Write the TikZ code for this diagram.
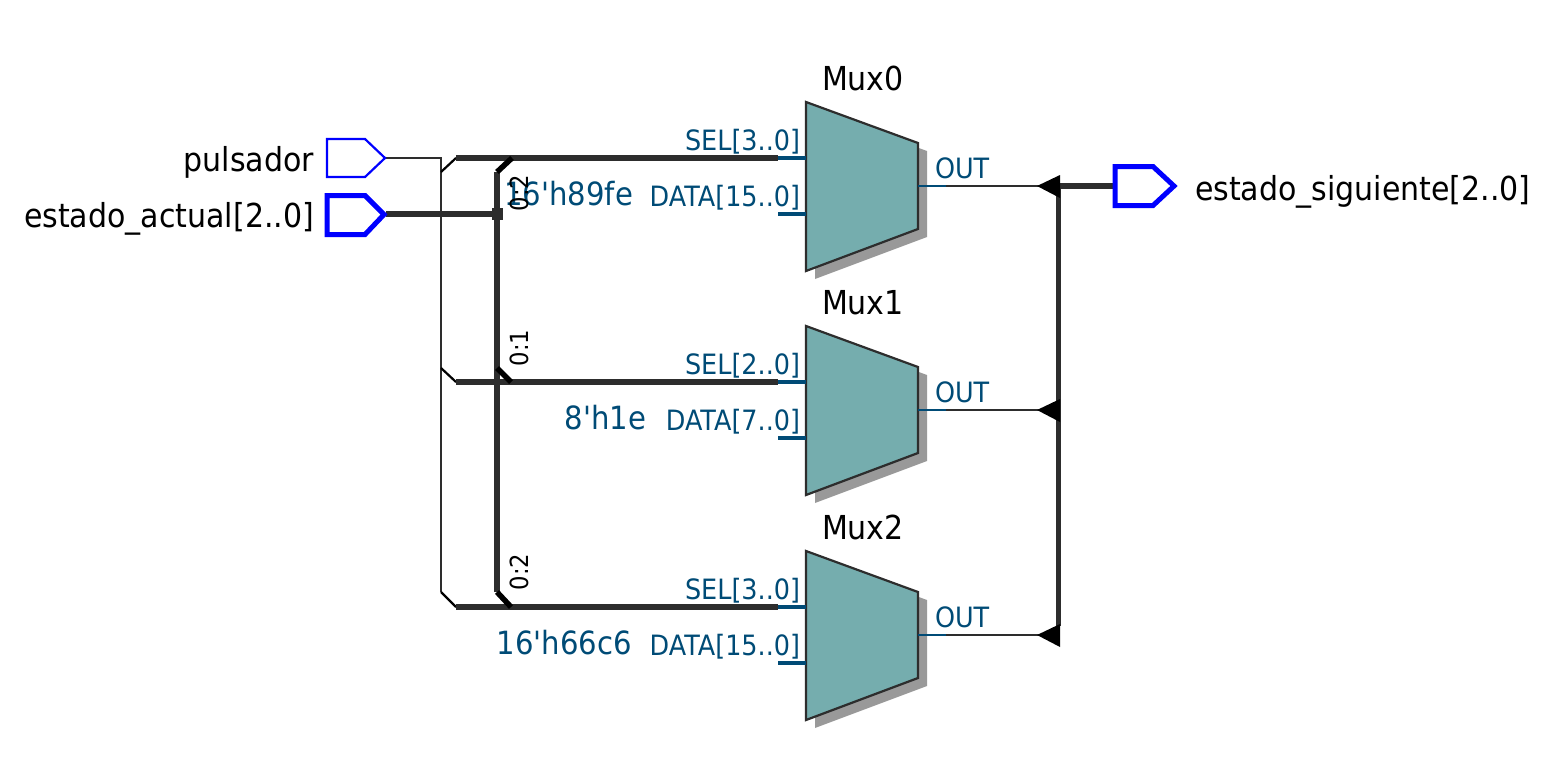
\documentclass[tikz,border=0pt]{standalone}
\usepackage{fontspec}
\newfontfamily\diagfont[FakeStretch=0.91]{DejaVu Sans}
\definecolor{wirec}{HTML}{2D2D2D}
\definecolor{pinblue}{HTML}{004B76}
\definecolor{muxfill}{HTML}{75ADAE}
\definecolor{shadowc}{HTML}{999999}
\definecolor{portblue}{HTML}{0000FF}
\tikzset{
  x=1pt,y=-1pt,
  txt/.style={inner sep=0pt,outer sep=0pt,text=black,font=\diagfont\fontsize{33}{33}\selectfont},
  pintxt/.style={inner sep=0pt,outer sep=0pt,text=pinblue,font=\diagfont\fontsize{28}{28}\selectfont},
  consttxt/.style={inner sep=0pt,outer sep=0pt,text=pinblue,font=\diagfont\fontsize{32}{32}\selectfont},
  ranget/.style={inner sep=0pt,outer sep=0pt,text=black,rotate=90,font=\diagfont\fontsize{25}{25}\selectfont},
  thinw/.style={draw=wirec,line width=2pt},
  busw/.style={draw=wirec,line width=5.5pt},
  tapb/.style={draw=black,line width=5.5pt},
  tapt/.style={draw=black,line width=2.2pt},
  pinw/.style={draw=pinblue,line width=4.5pt},
  outpin/.style={draw=pinblue,line width=2.4pt},
  muxbody/.style={draw=wirec,line width=2.2pt,fill=muxfill,line join=miter},
  muxshadow/.style={fill=shadowc,draw=none},
  tip/.style={fill=black,draw=none},
}
\newcommand{\muxunit}[7]{%
 \begin{scope}[shift={(0,#2)}]
  \fill[muxshadow] (815,110) -- (927,151) -- (927,237) -- (815,279) -- cycle;
  \draw[muxbody] (806,102) -- (918,143) -- (918,229) -- (806,271) -- cycle;
  \node[txt,anchor=base west] (#1label) at (822,90) {#3};
  \coordinate (#1selin) at (778,158);
  \coordinate (#1selend) at (806,158);
  \coordinate (#1datain) at (778,214);
  \coordinate (#1dataend) at (806,214);
  \coordinate (#1outa) at (918,186);
  \coordinate (#1outb) at (946,186);
  \coordinate (#1outc) at (1040,186);
  \draw[pinw] (#1selin) -- (#1selend);
  \draw[pinw] (#1datain) -- (#1dataend);
  \draw[outpin] (#1outa) -- (#1outb);
  \draw[thinw] (#1outb) -- (#1outc);
  \node[pintxt,anchor=base east] (#1sel) at (800,150) {#4};
  \node[pintxt,anchor=base east] (#1data) at (800,206) {#5};
  \node[pintxt,anchor=base west] (#1out) at (935,178) {OUT};
  \node[consttxt,anchor=base east] (#1const) at (#7,205) {#6};
 \end{scope}}
\begin{document}
\begin{tikzpicture}
\useasboundingbox (0,0) rectangle (1566,756);
\coordinate (pulsout) at (386,158);
\coordinate (actout) at (386,214);
\coordinate (tv0) at (441,158);
\coordinate (tv1) at (441,172);
\coordinate (tv2) at (441,368);
\coordinate (tv3) at (441,592);
\coordinate (bj) at (497,214);
\coordinate (bt) at (497,172);
\coordinate (bm) at (497,368);
\coordinate (bb) at (497,592);
\coordinate (outbt) at (1058.5,186);
\coordinate (outbb) at (1058.5,626);
\coordinate (sigin) at (1114,186);
\muxunit{mzero}{0}{Mux0}{SEL[3..0]}{DATA[15..0]}{16'h89fe}{633}
\muxunit{mone}{224}{Mux1}{SEL[2..0]}{DATA[7..0]}{8'h1e}{646}
\muxunit{mtwo}{449}{Mux2}{SEL[3..0]}{DATA[15..0]}{16'h66c6}{632}
\draw[thinw] (pulsout) -- (tv0) -- (tv3);
\draw[tapt] (tv1) -- (456,158);
\draw[tapt] (tv2) -- (456,382);
\draw[tapt] (tv3) -- (456,607);
\draw[busw] (456,158) -- (mzeroselin);
\draw[busw] (456,382) -- (moneselin);
\draw[busw] (456,607) -- (mtwoselin);
\draw[busw] (actout) -- (bj);
\draw[busw] (bt) -- (bb);
\draw[tapb] (bt) -- (512,158);
\draw[tapb] (bm) -- (511,382);
\draw[tapb] (bb) -- (511,607);
\fill[wirec] (492,208) rectangle (503,220);
\draw[busw] (outbt) -- (outbb);
\draw[busw] (outbt) -- (sigin);
\fill[tip] (1037,186) -- (1060,175) -- (1060,198) -- cycle;
\fill[tip] (1037,410) -- (1060,399) -- (1060,422) -- cycle;
\fill[tip] (1037,635) -- (1060,624) -- (1060,647) -- cycle;
\node[ranget,anchor=base] (rzero) at (528,193) {0:2};
\node[ranget,anchor=base] (rone) at (528,348) {0:1};
\node[ranget,anchor=base] (rtwo) at (528,572) {0:2};
\draw[portblue,line width=2.2pt,fill=white] (327,139) -- (365,139) -- (385,158) -- (365,177) -- (327,177) -- cycle;
\draw[portblue,line width=5pt,fill=white] (327,195.5) -- (365,195.5) -- (384,214.5) -- (365,234.5) -- (327,234.5) -- cycle;
\draw[portblue,line width=5pt,fill=white] (1115,166.5) -- (1153,166.5) -- (1174,186) -- (1153,205.5) -- (1115,205.5) -- cycle;
\node[txt,anchor=base east] (pulsador) at (314,171) {pulsador};
\node[txt,anchor=base east] (actual) at (314,227) {estado\_actual[2..0]};
\node[txt,anchor=base west] (siguiente) at (1195,200) {estado\_siguiente[2..0]};
\end{tikzpicture}
\end{document}
